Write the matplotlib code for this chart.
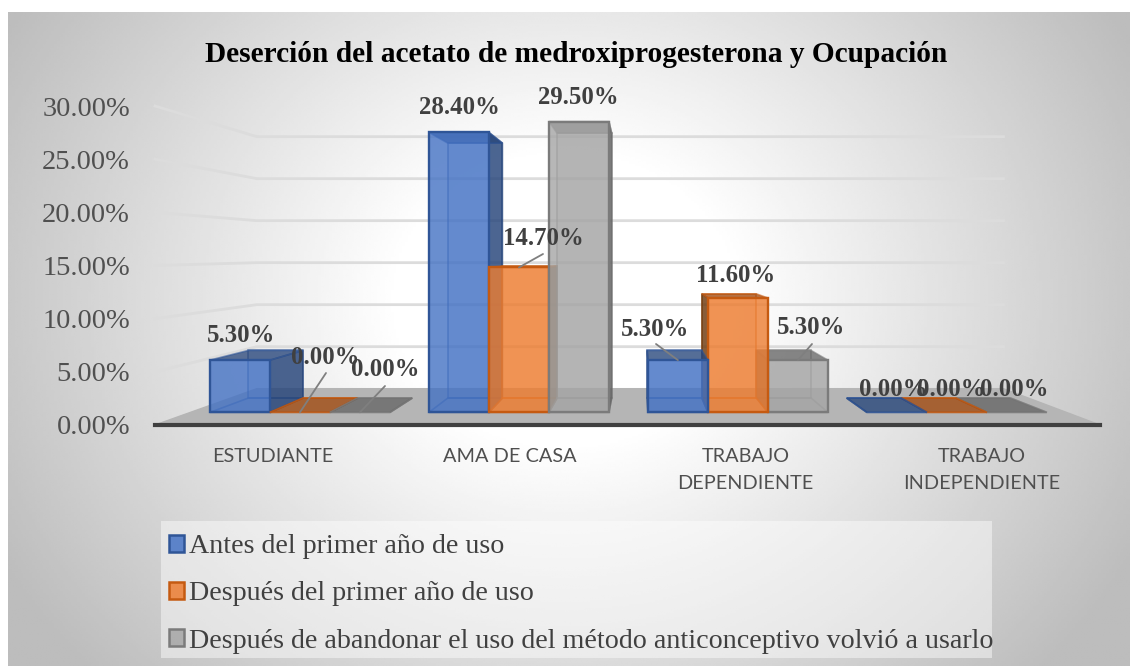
import numpy as np
import matplotlib
matplotlib.use('Agg')
import matplotlib.pyplot as plt
from matplotlib.colors import to_rgba
from matplotlib.patches import Patch, Rectangle

categories = ['ESTUDIANTE', 'AMA DE CASA', 'TRABAJO\nDEPENDIENTE', 'TRABAJO\nINDEPENDIENTE']
series_names = ['Antes del primer año de uso',
                'Después del primer año de uso',
                'Después de abandonar el uso del método anticonceptivo volvió a usarlo']
antes = [5.3, 28.4, 5.3, 0.0]
despues = [0.0, 14.7, 11.6, 0.0]
volvio = [0.0, 29.5, 5.3, 0.0]
y_ticks = [0, 5, 10, 15, 20, 25, 30]
title = 'Deserción del acetato de medroxiprogesterona y Ocupación'

# estilo de cada serie: cara, borde, tapa, lado oscuro
face_cols = ['#4472c4', '#ed7d31', '#a5a5a5']
edge_cols = ['#2f5597', '#c55a11', '#7b7b7b']
dark_cols = ['#264478', '#9e480e', '#636363']
side_cols = ['#264478', '#6b3a10', '#636363']

# posicion de las etiquetas en pixeles de la imagen (centro), por serie y categoria
label_pos = [[(241, 336), (459, 108), (655, 329), (893, 389)],
             [(325, 357), (543, 238), (736, 275), (951, 389)],
             [(385, 370), (578, 97), (811, 328), (1014, 389)]]
# inicio de las lineas guia
leaders = {(1, 0): (326, 373), (2, 0): (385, 386), (1, 1): (543, 254),
           (0, 2): (656, 344), (2, 2): (812, 344)}

W, H = 1130, 666
plt.rcParams['font.family'] = ['Liberation Serif', 'DejaVu Serif']
fig = plt.figure(figsize=(W / 100, H / 100), dpi=100, facecolor='white')


def box(x0, y0, x1, y1):
    return [x0 / W, 1 - y1 / H, (x1 - x0) / W, (y1 - y0) / H]


# fondo con degradado
bg = fig.add_axes(box(8, 12, W, H))
bg.axis('off')
gx, gy = np.meshgrid(np.linspace(8, W, 400), np.linspace(12, H, 300))
r = np.sqrt(((gx - 565) / 560) ** 2 + ((gy - 300) / 480) ** 2)
shade = 1 - 0.26 * np.clip((r - 0.3) / 0.85, 0, 1)
bg.imshow(shade, cmap='gray', vmin=0, vmax=1, aspect='auto', interpolation='bilinear')

ax = fig.add_axes(box(155, 106, 1100, 425))
ax.set_facecolor('none')
ax.set_xlim(-0.5, 3.5)
ax.set_ylim(0, 30)

# perspectiva: punto de fuga en unidades de datos
vx = -0.5 + (640 - 155) / (945 / 4)
vy = (425 - 252) / (319 / 30)
S_WALL, S_FRONT, S_BACK = 0.79, 0.927, 0.844


def proj(x, y, s):
    return vx + (x - vx) * s, vy + (y - vy) * s


# piso
floor = [proj(-0.5, 0, 1), proj(3.5, 0, 1), proj(3.5, 0, S_WALL), proj(-0.5, 0, S_WALL)]
ax.fill(*zip(*floor), color='#b5b5b5', zorder=1, clip_on=False)

# lineas de la pared
for v in y_ticks[1:]:
    xs, ys = zip(proj(-0.5, v, 1), proj(-0.5, v, S_WALL), proj(3.5, v, S_WALL))
    ax.plot(xs, ys, color='#dcdcdc', lw=2, zorder=1, clip_on=False)

bar_w = 60 / (945 / 4 * S_FRONT)
values = [antes, despues, volvio]
bars = []
for c in range(len(categories)):
    for k in range(3):
        bars.append((c + (k - 1) * bar_w, c, k))
# de afuera hacia el punto de fuga
bars.sort(key=lambda b: -abs(b[0] - vx))


def face(pts, col, alpha, edge, z):
    ax.fill(*zip(*pts), facecolor=to_rgba(col, alpha), edgecolor=to_rgba(edge, 0.6),
            lw=1.2, zorder=z, clip_on=False)


for z, (xc, c, k) in enumerate(bars):
    v = values[k][c]
    z = 2 + z * 0.1
    x0, x1 = xc - bar_w / 2, xc + bar_w / 2
    fc, ec, dc = face_cols[k], edge_cols[k], dark_cols[k]
    face([proj(x0, 0, S_BACK), proj(x1, 0, S_BACK), proj(x1, v, S_BACK), proj(x0, v, S_BACK)],
         fc, 0.15, ec, z)
    face([proj(x0, 0, S_FRONT), proj(x1, 0, S_FRONT), proj(x1, 0, S_BACK), proj(x0, 0, S_BACK)],
         fc, 0.15, ec, z)
    xs = x1 if xc < vx else x0
    face([proj(xs, 0, S_FRONT), proj(xs, 0, S_BACK), proj(xs, v, S_BACK), proj(xs, v, S_FRONT)],
         side_cols[k], 0.8, side_cols[k], z)
    face([proj(x0, v, S_FRONT), proj(x1, v, S_FRONT), proj(x1, v, S_BACK), proj(x0, v, S_BACK)],
         dc, 0.75, ec, z)
    fx, y0 = proj(x0, 0, S_FRONT)
    fx1, y1 = proj(x1, v, S_FRONT)
    if v > 0:
        ax.bar(fx, y1 - y0, width=fx1 - fx, bottom=y0, align='edge', facecolor=to_rgba(fc, 0.8),
               edgecolor=ec, lw=1.7, zorder=z, clip_on=False)
    if (k, c) in leaders:
        lx, ly = leaders[(k, c)]
        ax.annotate('', xy=proj(xc, v, S_FRONT), xytext=(lx, H - ly), textcoords='figure pixels',
                    arrowprops=dict(arrowstyle='-', color='#7f7f7f', lw=1.3, shrinkA=0, shrinkB=0),
                    zorder=9)

# etiquetas
for k in range(3):
    for c in range(len(categories)):
        px, py = label_pos[k][c]
        fig.text(px / W, 1 - py / H, '%.2f%%' % values[k][c], ha='center', va='center',
                 fontsize=17.8, fontweight='bold', color='#404040', zorder=10)

for s in ['top', 'left', 'right']:
    ax.spines[s].set_visible(False)
ax.spines['bottom'].set_linewidth(3)
ax.spines['bottom'].set_color('#404040')
ax.spines['bottom'].set_zorder(8)
ax.set_yticks(y_ticks)
ax.set_yticklabels(['%.2f%%' % v for v in y_ticks], fontsize=20.5, color='#505050')
ax.set_xticks(range(len(categories)))
ax.set_xticklabels(categories, fontsize=14.3, color='#4f4f4f', family='Lato', linespacing=1.75)
ax.tick_params(axis='y', length=0, pad=18)
ax.tick_params(axis='x', length=0, pad=16.5)

fig.text(576 / W, 1 - 55 / H, title, ha='center', va='center', fontsize=21.2,
         fontweight='bold', color='black')

# recuadro de la leyenda aparte: el texto llega hasta su borde derecho
fig.add_artist(Rectangle((161 / W, 1 - 658 / H), 831 / W, 137 / H, transform=fig.transFigure,
                         facecolor=to_rgba('white', 0.45), edgecolor='none'))
handles = [Patch(facecolor=to_rgba(f, 0.85), edgecolor=e, lw=1.8)
           for f, e in zip(face_cols, edge_cols)]
leg = fig.legend(handles, series_names, loc='lower left', bbox_to_anchor=(169 / W, 1 - 653.5 / H),
                 borderaxespad=0, borderpad=0, fontsize=20.2, labelcolor='#404040', frameon=False,
                 handlelength=0.54, handleheight=0.54, handletextpad=0.18, labelspacing=0.79)

fig.savefig('out.png', dpi=100)
